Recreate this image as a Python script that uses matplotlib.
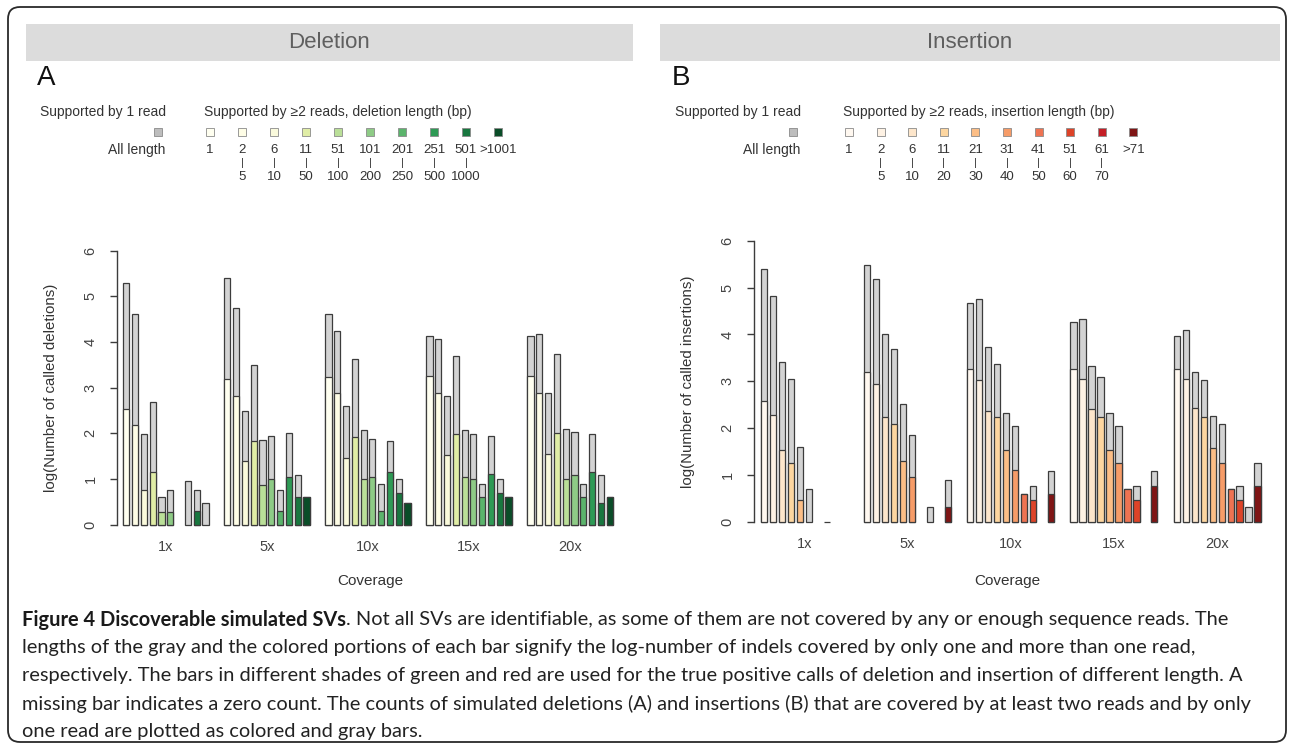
import numpy as np
import matplotlib
matplotlib.use("Agg")
from matplotlib import pyplot as plt
from matplotlib.patches import Rectangle, FancyBboxPatch

nan = np.nan

coverages = ["1x", "5x", "10x", "15x", "20x"]

# legend labels (length bins)
del_top = ["1", "2", "6", "11", "51", "101", "201", "251", "501", ">1001"]
del_bottom = ["", "5", "10", "50", "100", "200", "250", "500", "1000", ""]
ins_top = ["1", "2", "6", "11", "21", "31", "41", "51", "61", ">71"]
ins_bottom = ["", "5", "10", "20", "30", "40", "50", "60", "70", ""]

del_colors = ["#FFFFF0", "#FEFDE6", "#FAFADC", "#E0EDA6", "#BADF98", "#8ECB86",
              "#5BB46C", "#2E9A55", "#18773F", "#0A4D28"]
ins_colors = ["#FFF8F0", "#FEF2E4", "#FDE6CB", "#FDD6A0", "#FCBE86", "#F69C68",
              "#EE7352", "#DD4328", "#C41E26", "#7F1515"]

# log(number of called SVs): all reads (bar top) / >=2 reads (coloured part)
del_all = [
    [5.30, 4.62, 1.98, 2.69, 0.60, 0.77, nan, 0.96, 0.77, 0.47],
    [5.41, 4.75, 2.49, 3.50, 1.85, 1.95, 0.77, 2.00, 1.08, 0.60],
    [4.62, 4.25, 2.61, 3.62, 2.07, 1.88, 0.89, 1.84, 1.00, 0.47],
    [4.13, 4.07, 2.82, 3.69, 2.07, 1.99, 0.89, 1.95, 1.00, 0.60],
    [4.13, 4.18, 2.88, 3.74, 2.09, 2.04, 0.89, 1.99, 1.08, 0.60],
]
del_multi = [
    [2.53, 2.18, 0.76, 1.16, 0.28, 0.28, nan, nan, 0.30, nan],
    [3.18, 2.82, 1.40, 1.83, 0.88, 1.00, 0.30, 1.04, 0.60, 0.60],
    [3.23, 2.88, 1.46, 1.93, 1.00, 1.04, 0.29, 1.15, 0.69, 0.47],
    [3.25, 2.88, 1.53, 1.98, 1.04, 1.00, 0.60, 1.10, 0.69, 0.60],
    [3.25, 2.88, 1.55, 2.00, 1.00, 1.09, 0.60, 1.15, 0.47, 0.60],
]
ins_all = [
    [5.39, 4.82, 3.42, 3.06, 1.61, 0.70, nan, 0.00, nan, nan],
    [5.49, 5.19, 4.02, 3.69, 2.51, 1.85, nan, 0.31, nan, 0.89],
    [4.68, 4.75, 3.74, 3.37, 2.32, 2.05, 0.60, 0.77, nan, 1.09],
    [4.26, 4.32, 3.33, 3.09, 2.32, 2.04, 0.70, 0.77, nan, 1.09],
    [3.96, 4.09, 3.20, 3.03, 2.27, 2.10, 0.70, 0.77, 0.31, 1.25],
]
ins_multi = [
    [2.58, 2.29, 1.54, 1.25, 0.47, nan, nan, nan, nan, nan],
    [3.20, 2.94, 2.25, 2.10, 1.30, 0.97, nan, nan, nan, 0.31],
    [3.26, 3.03, 2.37, 2.23, 1.54, 1.11, 0.60, 0.47, nan, 0.60],
    [3.26, 3.05, 2.42, 2.25, 1.54, 1.25, 0.70, 0.47, nan, 0.77],
    [3.26, 3.05, 2.44, 2.25, 1.57, 1.25, 0.70, 0.47, nan, 0.77],
]

W, H = 1290, 746
RF = ["Liberation Sans", "DejaVu Sans"]
TXT = "#333333"
EDGE = "#3c3c3c"

fig = plt.figure(figsize=(W / 100, H / 100), dpi=100)


def fx(x):
    return x / W


def fy(y):
    return 1 - y / H


def ftext(x, y, s, **kw):
    kw.setdefault("family", RF)
    kw.setdefault("color", TXT)
    return fig.text(fx(x), fy(y), s, **kw)


# outer rounded frame
fig.add_artist(FancyBboxPatch((0.08, 0.04), 12.78, 7.35,
                              boxstyle="round,pad=0,rounding_size=0.12",
                              transform=fig.dpi_scale_trans, fc="none",
                              ec="#2a2a2a", lw=1.3))


def panel(dx, title, letter, what, top, bottom, colors, sq_x0, sq_step,
          ax_x0, ax_x1, y0, y6, first_left, unit, all_rows, multi_rows,
          ylab, hdr):
    # header strip
    fig.add_artist(Rectangle((fx(hdr[0]), fy(61)), (hdr[1] - hdr[0]) / W, 37 / H,
                             transform=fig.transFigure, fc="#DCDCDC", ec="none"))
    ftext((hdr[0] + hdr[1]) / 2, 43, title, ha="center", va="center",
          fontsize=16, color="#5f5f5f")
    ftext(37 + dx, 78, letter, ha="left", va="center", fontsize=20, color="#111111")

    # legend
    fs = 10
    ftext(40 + dx, 112, "Supported by 1 read", ha="left", va="center", fontsize=fs)
    ftext(sq_x0 - 6, 112, "Supported by \u22652 reads, %s length (bp)" % what,
          ha="left", va="center", fontsize=fs)
    s = 8
    sy = 132
    fig.add_artist(Rectangle((fx(158 + dx - s / 2), fy(sy + s / 2)), s / W, s / H,
                             transform=fig.transFigure, fc="#BDBDBD", ec="#8a8a8a", lw=0.6))
    ftext(165 + dx, 150, "All length", ha="right", va="center", fontsize=fs)
    for i, c in enumerate(colors):
        cx = sq_x0 + sq_step * i
        fig.add_artist(Rectangle((fx(cx - s / 2), fy(sy + s / 2)), s / W, s / H,
                                 transform=fig.transFigure, fc=c, ec="#8a8a8a", lw=0.6))
        ftext(cx, 150, top[i], ha="center", va="center", fontsize=9.5)
        if bottom[i]:
            ftext(cx, 163.5, "|", ha="center", va="center", fontsize=8)
            ftext(cx, 177, bottom[i], ha="center", va="center", fontsize=9.5)

    # bars
    ax = fig.add_axes([fx(ax_x0), fy(y0), (ax_x1 - ax_x0) / W, (y0 - y6) / H])
    left = -0.35 - (first_left - ax_x0) / unit
    ax.set_xlim(left, left + (ax_x1 - ax_x0) / unit)
    ax.set_ylim(0, 6)
    ax.patch.set_alpha(0)
    idx = np.arange(10)
    centers = []
    for g in range(len(coverages)):
        xs = g * 11.5 + idx
        tot = np.array(all_rows[g])
        mul = np.array(multi_rows[g])
        m = ~np.isnan(tot)
        ax.bar(xs[m], tot[m], width=0.7, color="#D3D3D3", edgecolor=EDGE, lw=0.9,
               clip_on=False)
        m = ~np.isnan(mul)
        ax.bar(xs[m], mul[m], width=0.7, color=np.array(colors)[m], edgecolor=EDGE,
               lw=0.9, clip_on=False)
        centers.append(xs.mean())
    for sp in ["top", "right", "bottom"]:
        ax.spines[sp].set_visible(False)
    ax.spines["left"].set_bounds(0, 6)
    ax.spines["left"].set_color(EDGE)
    ax.spines["left"].set_linewidth(1)
    ax.set_yticks(range(7))
    ax.tick_params(axis="y", length=5, width=1, color=EDGE, labelsize=10.5,
                   labelcolor="#444444", labelrotation=90, pad=9)
    for lab in ax.get_yticklabels():
        lab.set_family(RF)
        lab.set_va("center")
    ax.set_xticks(centers)
    ax.set_xticklabels(coverages, family=RF, color="#444444", fontsize=10.5)
    ax.tick_params(axis="x", length=0, pad=11)
    ftext(ax_x0 + 253, 581, "Coverage", ha="center", va="center", fontsize=11)
    ftext(ax_x0 - 66, (y0 + y6) / 2, ylab, ha="center", va="center",
          fontsize=10.8, rotation=90)
    return ax


panel(0, "Deletion", "A", "deletion", del_top, del_bottom, del_colors, 210, 32.0,
      117, 625, 524.7, 250.7, 123.3, 8.786, del_all, del_multi,
      "log(Number of called deletions)", (26, 633))
panel(635, "Insertion", "B", "insertion", ins_top, ins_bottom, ins_colors, 849, 31.6,
      754, 1275, 522.0, 240.7, 760.7, 8.977, ins_all, ins_multi,
      "log(Number of called insertions)", (660, 1280))

# caption
CF = ["Lato", "Open Sans", "DejaVu Sans"]
cap_bold = "Figure 4 Discoverable simulated SVs"
cap_lines = [
    ". Not all SVs are identifiable, as some of them are not covered by any or enough sequence reads. The",
    "lengths of the gray and the colored portions of each bar signify the log-number of indels covered by only one and more than one read,",
    "respectively. The bars in different shades of green and red are used for the true positive calls of deletion and insertion of different length. A",
    "missing bar indicates a zero count. The counts of simulated deletions (A) and insertions (B) that are covered by at least two reads and by only",
    "one read are plotted as colored and gray bars.",
]
cap_right = [1278, 1198, 1280, 1262]
renderer = fig.canvas.get_renderer()
ratios = []
for k, line in enumerate(cap_lines[:4]):
    s_ = cap_bold + line if k == 0 else line
    p = ftext(22, 676, s_, family=CF, fontsize=12)
    ratios.append((cap_right[k] - 22) / p.get_window_extent(renderer).width)
    p.remove()
cap_size = 12 * min(ratios)
cap_y = [620, 648, 676, 704, 731]
tb = ftext(22, cap_y[0], cap_bold, family=CF, fontsize=cap_size, weight="bold",
           color="#1a1a1a", va="center")
bw = tb.get_window_extent(renderer).width
ftext(22 + bw, cap_y[0], cap_lines[0], family=CF, fontsize=cap_size, va="center",
      color="#222222")
for y, line in zip(cap_y[1:], cap_lines[1:]):
    ftext(22, y, line, family=CF, fontsize=cap_size, va="center", color="#222222")

fig.savefig("out.png", dpi=100)
